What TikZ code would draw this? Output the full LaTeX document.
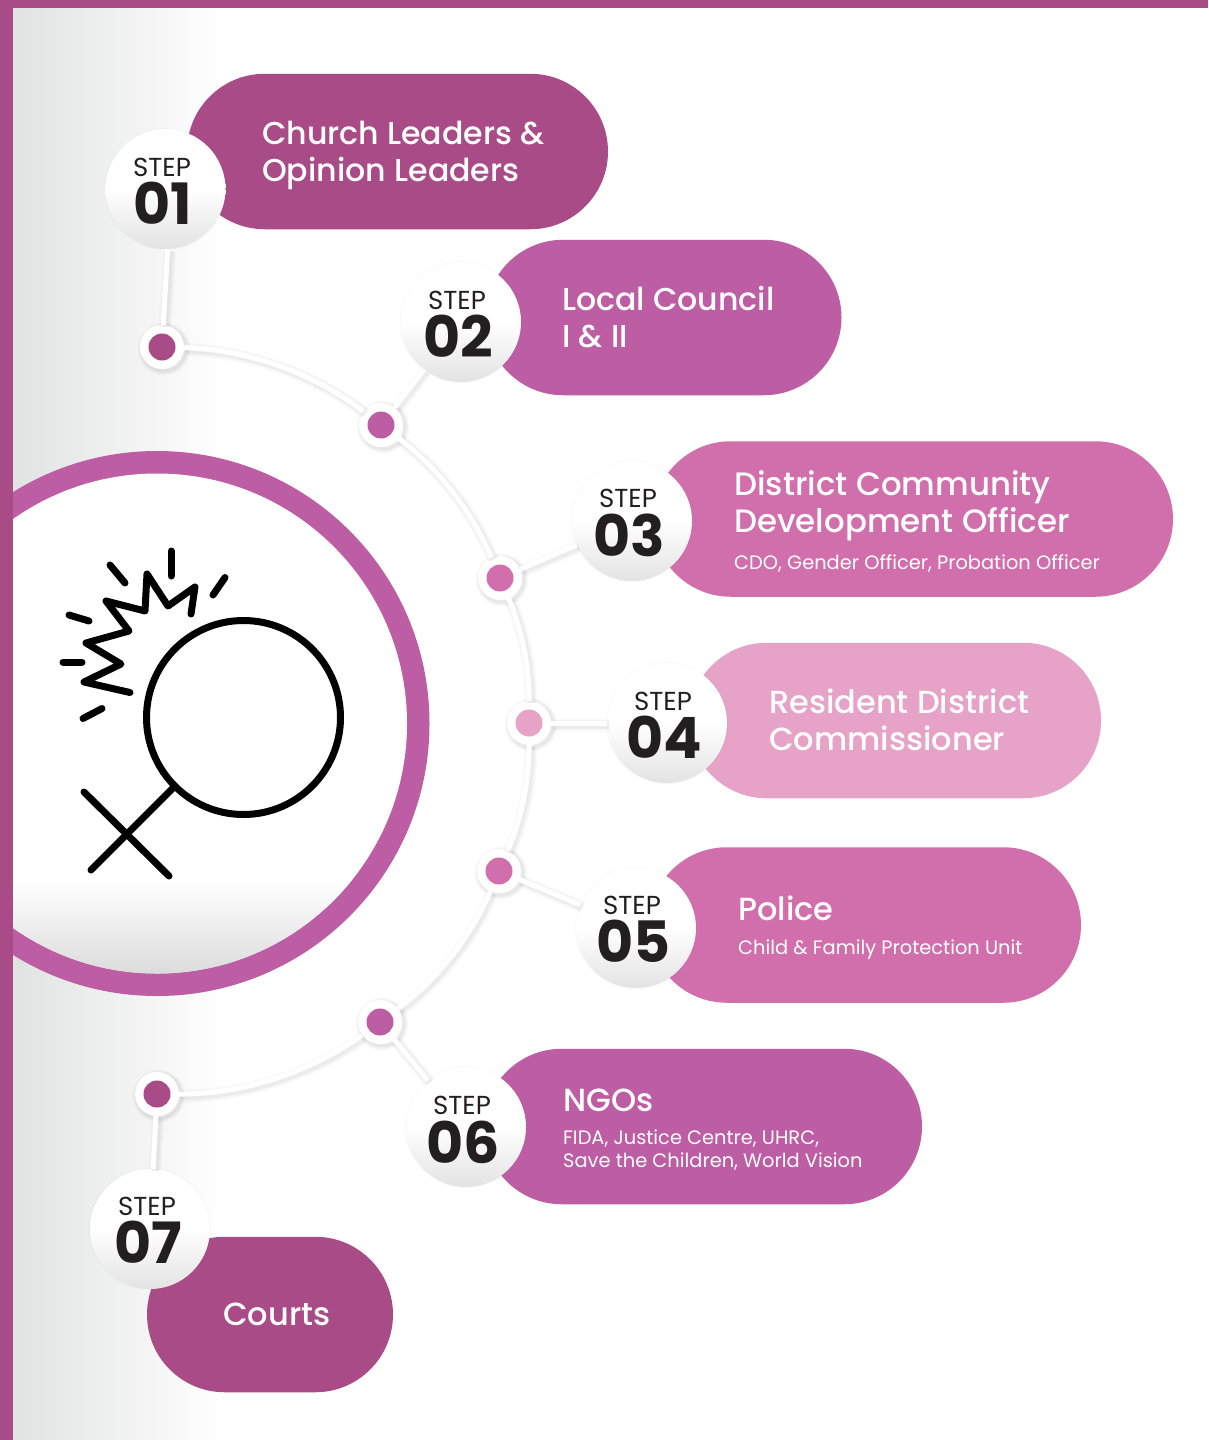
\documentclass[tikz,border=0pt]{standalone}
\usepackage{fontspec}
\setmainfont{Poppins}
\newfontfamily\medfont{Poppins Medium}
\usetikzlibrary{shapes.misc}
\definecolor{plumA}{HTML}{A94B87}
\definecolor{plumB}{HTML}{BD5DA3}
\definecolor{plumC}{HTML}{D16FAC}
\definecolor{plumD}{HTML}{E6A2C7}
\definecolor{inkc}{HTML}{231F20}
\definecolor{bggray}{HTML}{E1E2E2}
\tikzset{
 softnode/.style={
  preaction={draw=black,draw opacity=.025,line width=9pt,transform canvas={xshift=2pt,yshift=-2pt}},
  preaction={draw=black,draw opacity=.03,line width=6pt,transform canvas={xshift=2pt,yshift=-2pt}},
  preaction={draw=black,draw opacity=.04,line width=3pt,transform canvas={xshift=2pt,yshift=-2pt}}},
 link/.style={draw=white,line width=5pt,
  preaction={draw=black,draw opacity=.02,line width=13pt,transform canvas={xshift=2pt,yshift=-2pt}},
  preaction={draw=black,draw opacity=.025,line width=10pt,transform canvas={xshift=2pt,yshift=-2pt}},
  preaction={draw=black,draw opacity=.03,line width=7pt,transform canvas={xshift=2pt,yshift=-2pt}}},
 arcA/.style={link,bend left=18,looseness=.85},
 arcB/.style={link,bend left=15,looseness=.85},
 arcC/.style={link,bend left=11.5,looseness=.85},
 pill/.style={rounded rectangle,minimum height=155.5pt,inner sep=0pt},
 stepdisc/.style={circle,minimum size=120pt,inner sep=0pt,
  preaction={draw=black,draw opacity=.025,line width=2pt},
  top color=white,bottom color=black!11,middle color=white},
 dotring/.style={circle,minimum size=44pt,inner sep=0pt,fill=white,softnode},
 dotcore/.style={circle,minimum size=27pt,inner sep=0pt},
 steplabel/.style={anchor=base,inner sep=0pt,text=inkc,font=\fontsize{26}{26}\selectfont},
 stepnum/.style={anchor=base,inner sep=0pt,text=inkc,font=\bfseries\fontsize{57}{57}\selectfont},
 headtext/.style={anchor=base west,inner sep=0pt,text=white,align=left,font=\medfont\fontsize{32}{37}\selectfont},
 headnarrow/.style={headtext,font=\medfont\fontsize{31.6}{37}\selectfont},
 headwide/.style={headtext,font=\medfont\fontsize{32.4}{37}\selectfont},
 subtext/.style={anchor=base west,inner sep=0pt,text=white,align=left,font=\fontsize{19.4}{23}\selectfont},
 icon/.style={draw=black,line width=7pt,line cap=round,line join=round},
}
\begin{document}
\begin{tikzpicture}[x=1pt,y=-1pt]
\useasboundingbox (0,0) rectangle (1208,1440);
% background
\fill[white] (0,0) rectangle (1208,1440);
\shade[left color=bggray,right color=white] (13,0) rectangle (222,1440);
% central disc
\begin{scope}
\clip (13,0) rectangle (1208,1440);
\fill[plumB] (157,723.5) circle[radius=272.5];
\fill[white] (157,723.5) circle[radius=250];
\begin{scope}
\clip (157,723.5) circle[radius=250];
\shade[top color=white,bottom color=black!14] (-100,880) rectangle (420,975);
\end{scope}
\end{scope}
% bars
\fill[plumA] (0,0) rectangle (1208,8);
\fill[plumA] (0,0) rectangle (13,1440);
% icon
\draw[icon] (243.5,717.5) circle[radius=97];
\draw[icon] (173,788) -- (91,870);
\draw[icon] (84,792) -- (169,876);
\draw[icon] (130,692.5) -- (84,682) -- (121,664) -- (86,643) -- (129,631) -- (106,601) -- (145,611) -- (147,574) -- (168,606) -- (195,587) -- (191,614);
\draw[icon] (171,551) -- (171,576);
\draw[icon] (110,565) -- (125,583);
\draw[icon] (225,577.5) -- (213,595);
\draw[icon] (69,615) -- (89,621);
\draw[icon] (63,662) -- (82,662);
\draw[icon] (83,718.5) -- (102,708.5);
% pills
\node[pill,fill=plumA,minimum width=421pt] (p1) at (397.5,151.5) {};
\node[pill,fill=plumB,minimum width=356pt] (p2) at (663.5,317.5) {};
\node[pill,fill=plumC,minimum width=520pt] (p3) at (913,519) {};
\node[pill,fill=plumD,minimum width=412pt] (p4) at (895,720.5) {};
\node[pill,fill=plumC,minimum width=432pt] (p5) at (865,925) {};
\node[pill,fill=plumB,minimum width=438pt] (p6) at (703,1126.5) {};
\node[pill,fill=plumA,minimum width=246pt] (p7) at (270,1314.5) {};
% dots
\node[dotring] (d1) at (162,347) {};
\node[dotring] (d2) at (381,425) {};
\node[dotring] (d3) at (500,578) {};
\node[dotring] (d4) at (529,723) {};
\node[dotring] (d5) at (499,871) {};
\node[dotring] (d6) at (380,1022) {};
\node[dotring] (d7) at (157,1094) {};
\node[dotcore,fill=plumA] at (d1) {};
\node[dotcore,fill=plumB] at (d2) {};
\node[dotcore,fill=plumC] at (d3) {};
\node[dotcore,fill=plumD] at (d4) {};
\node[dotcore,fill=plumC] at (d5) {};
\node[dotcore,fill=plumB] at (d6) {};
\node[dotcore,fill=plumA] at (d7) {};
% step discs
\node[stepdisc] (s1) at (165.5,189) {};
\node[stepdisc] (s2) at (461,322) {};
\node[stepdisc] (s3) at (632,521) {};
\node[stepdisc] (s4) at (667,723) {};
\node[stepdisc] (s5) at (636,928) {};
\node[stepdisc] (s6) at (466,1127) {};
\node[stepdisc] (s7) at (150,1229) {};
% connectors
\draw[arcA] (d1) to (d2);
\draw[arcB] (d2) to (d3);
\draw[arcC] (d3) to (d4);
\draw[arcC] (d4) to (d5);
\draw[arcB] (d5) to (d6);
\draw[arcA] (d6) to (d7);
\draw[link] (s1.-88) -- (d1);
\draw[link] (s2) -- (d2);
\draw[link] (s3) -- (d3);
\draw[link] (s4) -- (d4);
\draw[link] (s5) -- (d5);
\draw[link] (s6) -- (d6);
\draw[link] (s7) -- (d7);
% step text
\node[steplabel] (l1) at (162,176) {STEP};
\node[steplabel] (l2) at (457,309) {STEP};
\node[steplabel] (l3) at (628,507) {STEP};
\node[steplabel] (l4) at (663,710) {STEP};
\node[steplabel] (l5) at (632,914) {STEP};
\node[steplabel] (l6) at (462,1114) {STEP};
\node[steplabel] (l7) at (147,1215) {STEP};
\node[stepnum] (n1) at (162.5,224) {01};
\node[stepnum] (n2) at (458.5,357) {02};
\node[stepnum] (n3) at (629,556) {03};
\node[stepnum] (n4) at (664.5,758) {04};
\node[stepnum] (n5) at (633.5,962) {05};
\node[stepnum] (n6) at (463.5,1163) {06};
\node[stepnum] (n7) at (148,1263) {07};
% pill text
\node[headnarrow] (t1) at (262,181) {Church Leaders \&\\Opinion Leaders};
\node[headnarrow] (t2) at (562,347) {Local Council\\I \& II};
\node[headwide] (t3) at (734,532) {District Community\\Development Officer};
\node[subtext] (u3) at (734,569) {CDO, Gender Officer, Probation Officer};
\node[headtext] (t4) at (769,750) {Resident District\\Commissioner};
\node[headtext] (t5) at (738,920) {Police};
\node[subtext] (u5) at (738,954) {Child \& Family Protection Unit};
\node[headtext] (t6) at (563,1111) {NGOs};
\node[subtext] (u6) at (563,1167) {FIDA, Justice Centre, UHRC,\\Save the Children, World Vision};
\node[headtext] (t7) at (223,1325) {Courts};
\end{tikzpicture}
\end{document}
